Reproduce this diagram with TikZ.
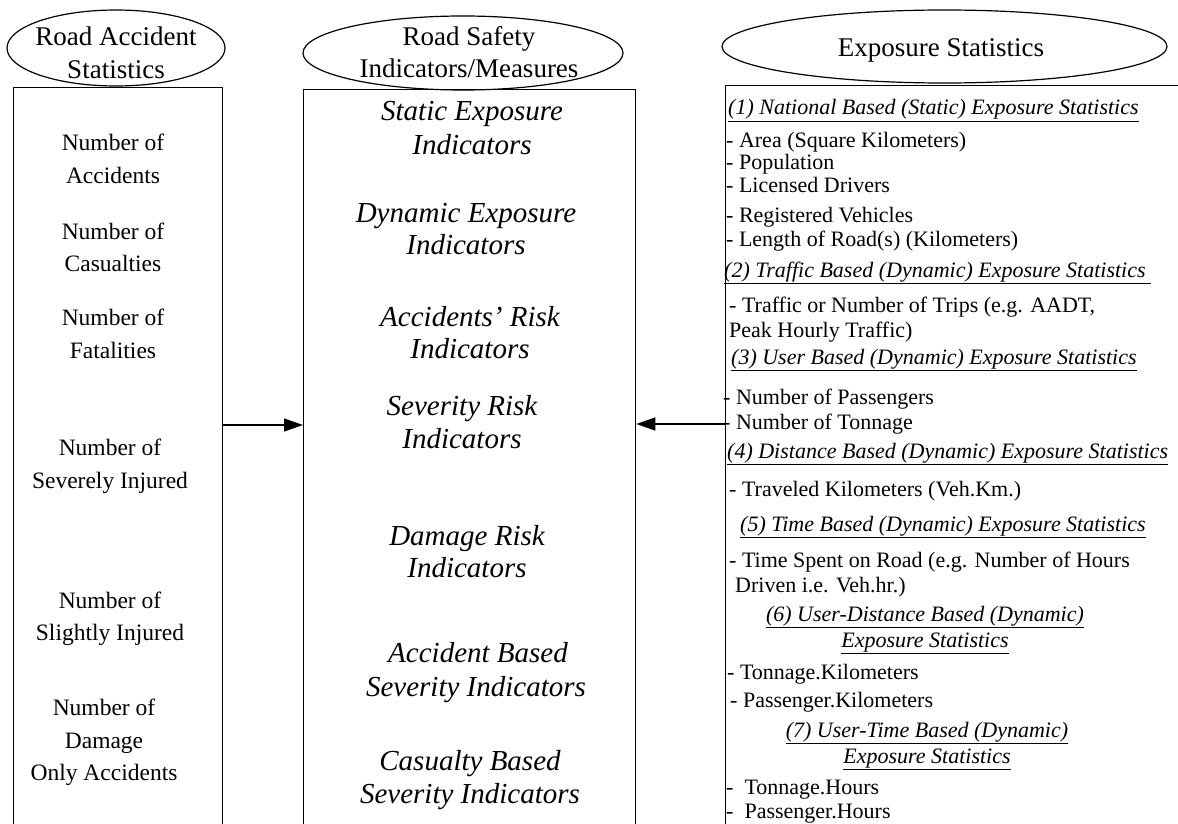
\documentclass[tikz,border=0pt]{standalone}
\usepackage{fontspec}
\setmainfont{Liberation Serif}
\usetikzlibrary{arrows.meta,shapes.geometric}
\begin{document}
\begin{tikzpicture}[x=1pt,y=-1pt,
  title/.style={ellipse, draw, line width=1.2pt, inner sep=0pt},
  titletxt/.style={font=\fontsize{27}{31}\selectfont, anchor=base, inner sep=0pt},
  panel/.style={draw, line width=1.3pt, rectangle, inner sep=0pt, anchor=north west},
  lefttxt/.style={font=\fontsize{23.5}{28}\selectfont, anchor=base, inner sep=0pt},
  midtxt/.style={font=\fontsize{29}{33}\selectfont\itshape, anchor=base, inner sep=0pt},
  righttxt/.style={font=\fontsize{22}{26}\selectfont, anchor=base west, inner sep=0pt},
  headtxt/.style={font=\fontsize{22}{26}\selectfont\itshape, anchor=base west, inner sep=0pt},
  headctr/.style={font=\fontsize{22}{26}\selectfont\itshape, anchor=base, inner sep=0pt},
  link/.style={line width=1.3pt, -{Triangle[length=19pt,width=13pt]}}
]
\useasboundingbox (0,0) rectangle (1178,824);

% title ellipses
\node[title, minimum width=218pt, minimum height=76pt] (tA) at (116,48) {};
\node[title, minimum width=320pt, minimum height=74pt] (tB) at (463,53) {};
\node[title, minimum width=445pt, minimum height=73pt] (tC) at (944.5,46.5) {};
\node[titletxt] (tA1) at (116,46) {Road Accident};
\node[titletxt] (tA2) at (116,79) {Statistics};
\node[titletxt] (tB1) at (469,46) {Road Safety};
\node[titletxt] (tB2) at (469,78) {Indicators/Measures};
\node[titletxt] (tC1) at (941,57) {Exposure Statistics};

% panels
\node[panel, minimum width=209pt, minimum height=760pt] (pA) at (13,87) {};
\node[panel, minimum width=332pt, minimum height=760pt] (pB) at (303,89) {};
\node[panel, minimum width=470pt, minimum height=760pt] (pC) at (725,85) {};

% connectors
\coordinate (ya) at (0,425);
\coordinate (yb) at (0,424);
\draw[link] (pA.east |- ya) -- (pB.west |- ya);
\draw[link] (pC.west |- yb) -- (pB.east |- yb);

% left column
\node[lefttxt] (a1) at (113,150) {Number of};
\node[lefttxt] (a1b) at (113,183) {Accidents};
\node[lefttxt] (a2) at (113,239) {Number of};
\node[lefttxt] (a2b) at (113,271) {Casualties};
\node[lefttxt] (a3) at (113,325) {Number of};
\node[lefttxt] (a3b) at (113,358) {Fatalities};
\node[lefttxt] (a4) at (110,455) {Number of};
\node[lefttxt] (a4b) at (110,488) {Severely Injured};
\node[lefttxt] (a5) at (110,608) {Number of};
\node[lefttxt] (a5b) at (110,640) {Slightly Injured};
\node[lefttxt] (a6) at (104,715) {Number of};
\node[lefttxt] (a6b) at (104,748) {Damage};
\node[lefttxt] (a6c) at (104,780) {Only Accidents};

% middle column
\node[midtxt] (b1) at (472,121) {Static Exposure};
\node[midtxt] (b1b) at (472,155) {Indicators};
\node[midtxt] (b2) at (466,222) {Dynamic Exposure};
\node[midtxt] (b2b) at (466,254) {Indicators};
\node[midtxt] (b3) at (470,326) {Accidents' Risk};
\node[midtxt] (b3b) at (470,358) {Indicators};
\node[midtxt] (b4) at (462,415) {Severity Risk};
\node[midtxt] (b4b) at (462,448) {Indicators};
\node[midtxt] (b5) at (467,545) {Damage Risk};
\node[midtxt] (b5b) at (467,577) {Indicators};
\node[midtxt] (b6) at (478,662) {Accident Based};
\node[midtxt] (b6b) at (476,696) {Severity Indicators};
\node[midtxt] (b7) at (470,770) {Casualty Based};
\node[midtxt] (b7b) at (470,803) {Severity Indicators};

% right column
\node[headtxt] (c1) at (728,115) {\underline{(1) National Based (Static) Exposure Statistics}};
\node[righttxt] (c1a) at (726,147) {- Area (Square Kilometers)};
\node[righttxt] (c1b) at (726,170) {- Population};
\node[righttxt] (c1c) at (726,193) {- Licensed Drivers};
\node[righttxt] (c1d) at (726,222) {- Registered Vehicles};
\node[righttxt] (c1e) at (726,246) {- Length of Road(s) (Kilometers)};
\node[headtxt] (c2) at (724,277) {\underline{(2) Traffic Based (Dynamic) Exposure Statistics\ }};
\node[righttxt] (c2a) at (729,312) {- Traffic or Number of Trips (e.g. AADT,};
\node[righttxt] (c2b) at (729,337) {Peak Hourly Traffic)};
\node[headtxt] (c3) at (731,364) {\underline{(3) User Based (Dynamic) Exposure Statistics}};
\node[righttxt] (c3a) at (723,404) {- Number of Passengers};
\node[righttxt] (c3b) at (723,429) {- Number of Tonnage};
\node[headtxt] (c4) at (727,458) {\underline{(4) Distance Based (Dynamic) Exposure Statistics}};
\node[righttxt] (c4a) at (729,496) {- Traveled Kilometers (Veh.Km.)};
\node[headtxt] (c5) at (740,531) {\underline{(5) Time Based (Dynamic) Exposure Statistics}};
\node[righttxt] (c5a) at (729,567) {- Time Spent on Road (e.g. Number of Hours};
\node[righttxt] (c5b) at (735,592) {Driven i.e. Veh.hr.)};
\node[headctr] (c6) at (925,621) {\underline{(6) User-Distance Based (Dynamic)}};
\node[headctr] (c6b) at (925,647) {\underline{Exposure Statistics}};
\node[righttxt] (c6c) at (727,679) {- Tonnage.Kilometers};
\node[righttxt] (c6d) at (730,707) {- Passenger.Kilometers};
\node[headctr] (c7) at (927,737) {\underline{(7) User-Time Based (Dynamic)}};
\node[headctr] (c7b) at (927,763) {\underline{Exposure Statistics}};
\node[righttxt] (c7c) at (726,794) {-\ \ Tonnage.Hours};
\node[righttxt] (c7d) at (726,818) {-\ \ Passenger.Hours};
\end{tikzpicture}
\end{document}
